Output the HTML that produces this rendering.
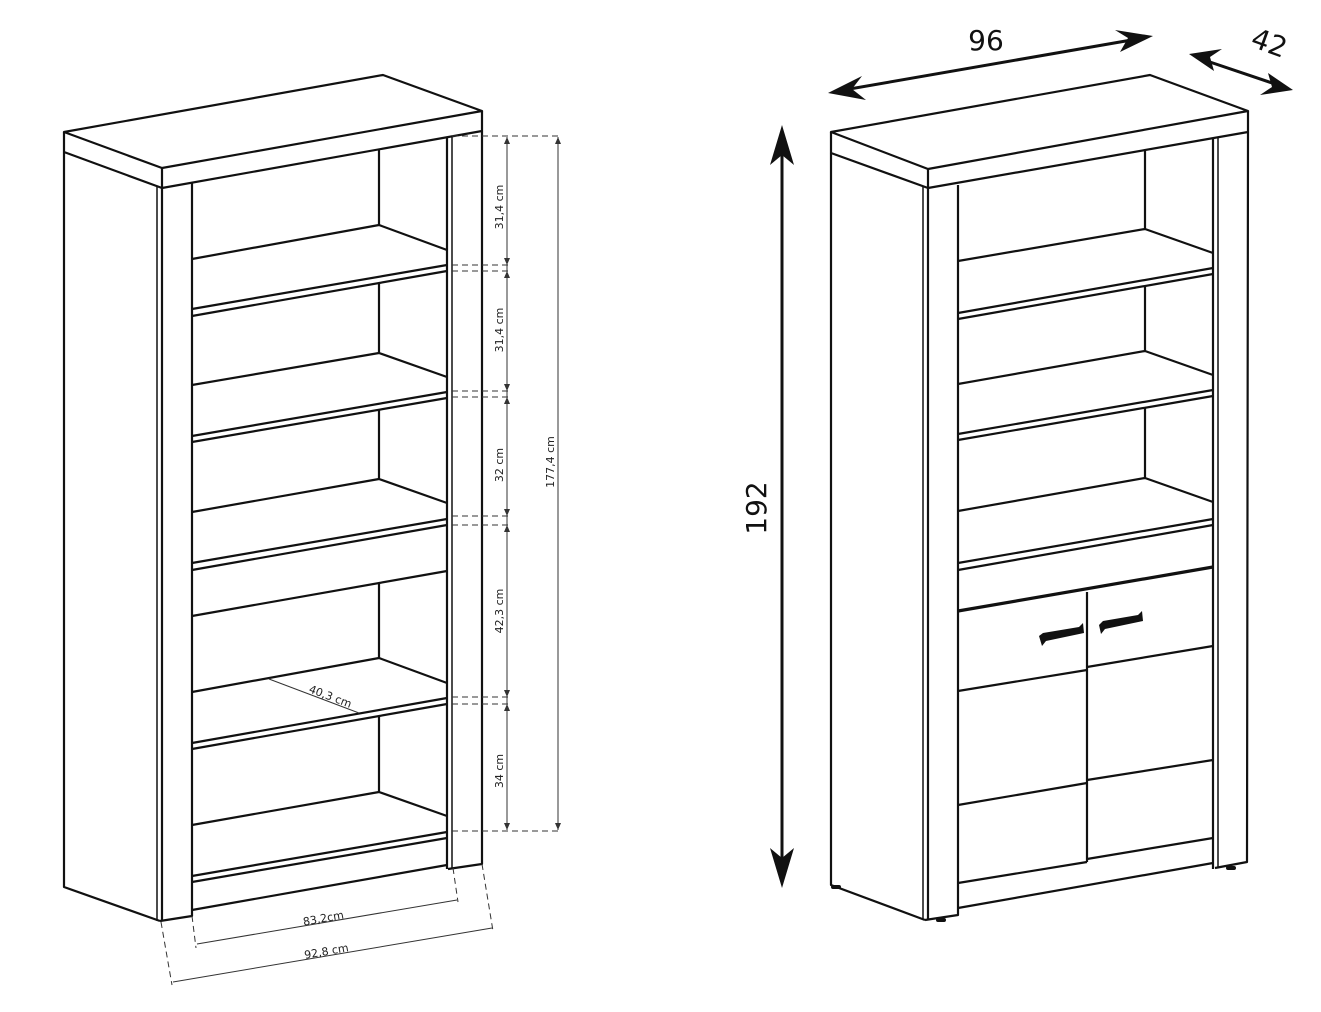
<!DOCTYPE html>
<html><head><meta charset="utf-8"><style>html,body{margin:0;padding:0;background:#fff}svg{display:block}</style></head>
<body>
<svg width="1321" height="1012" viewBox="0 0 1321 1012" xmlns="http://www.w3.org/2000/svg" font-family="'DejaVu Sans','Liberation Sans',sans-serif">
<rect width="1321" height="1012" fill="#fff"/>
<g fill="none" stroke="#111" stroke-width="2.2" stroke-linejoin="round">
<!-- LEFT CABINET -->
<polygon points="64,132 383,75 482,111 162,168"/>
<polyline points="162,168 162,188 482,131 482,111"/>
<polyline points="64,132 64,152 162,188"/>
<polyline points="64,152 64,887 160,921"/>
<line x1="157" y1="186" x2="157" y2="921" stroke-width="1.5"/>
<line x1="162" y1="188" x2="162" y2="921"/>
<polyline points="160,921 192,916 192,183"/>
<line x1="447" y1="138" x2="447" y2="869"/>
<line x1="452" y1="137" x2="452" y2="869" stroke-width="1.5"/>
<polyline points="482,131 482,864 448,869"/>
<line x1="379" y1="149" x2="379" y2="225"/>
<polyline points="192,259 379,225 447,250"/>
<line x1="192" y1="309" x2="447" y2="265"/><line x1="192" y1="316" x2="447" y2="271"/>
<line x1="379" y1="283" x2="379" y2="353"/>
<polyline points="192,385 379,353 447,377"/>
<line x1="192" y1="436" x2="447" y2="392"/><line x1="192" y1="442" x2="447" y2="398"/>
<line x1="379" y1="409" x2="379" y2="479"/>
<polyline points="192,512 379,479 447,503"/>
<line x1="192" y1="563" x2="447" y2="519"/><line x1="192" y1="570" x2="447" y2="525"/>
<line x1="192" y1="616" x2="447" y2="571"/>
<line x1="379" y1="584" x2="379" y2="658"/>
<polyline points="192,692 379,658 447,683"/>
<line x1="192" y1="743" x2="447" y2="698"/><line x1="192" y1="749" x2="447" y2="704"/>
<line x1="379" y1="716" x2="379" y2="792"/>
<polyline points="192,825 379,792 447,816"/>
<line x1="192" y1="876" x2="447" y2="832"/><line x1="192" y1="882" x2="447" y2="838"/>
<line x1="192" y1="910" x2="447" y2="865"/>

<!-- RIGHT CABINET -->
<polygon points="831,132 1150,75 1248,111 928,169"/>
<polyline points="928,169 928,188 1248,132 1248,111"/>
<polyline points="831,132 831,153 928,188"/>
<polyline points="831,153 831,885 925,920"/>
<line x1="923" y1="186" x2="923" y2="920" stroke-width="1.5"/>
<line x1="928" y1="188" x2="928" y2="920"/>
<polyline points="925,920 958,915 958,185"/>
<line x1="1213" y1="138" x2="1213" y2="869"/>
<line x1="1218" y1="137" x2="1218" y2="868" stroke-width="1.5"/>
<polyline points="1248,132 1247,862 1215,868"/>
<line x1="1145" y1="151" x2="1145" y2="229"/>
<polyline points="958,261 1145,229 1213,253"/>
<line x1="958" y1="313" x2="1213" y2="268"/><line x1="958" y1="319" x2="1213" y2="274"/>
<line x1="1145" y1="287" x2="1145" y2="351"/>
<polyline points="958,384 1145,351 1213,375"/>
<line x1="958" y1="434" x2="1213" y2="390"/><line x1="958" y1="440" x2="1213" y2="396"/>
<line x1="1145" y1="408" x2="1145" y2="478"/>
<polyline points="958,511 1145,478 1213,502"/>
<line x1="958" y1="563" x2="1213" y2="519"/><line x1="958" y1="570" x2="1213" y2="525"/>
<line x1="958" y1="611" x2="1213" y2="567" stroke-width="3.2"/>
<line x1="1087" y1="592" x2="1087" y2="862"/>
<line x1="958" y1="691" x2="1087" y2="670"/><line x1="1087" y1="667" x2="1213" y2="646"/>
<line x1="958" y1="805" x2="1087" y2="783"/><line x1="1087" y1="780" x2="1213" y2="760"/>
<line x1="958" y1="883" x2="1087" y2="862"/><line x1="1087" y1="859" x2="1213" y2="838"/>
<line x1="958" y1="908" x2="1213" y2="863"/>
</g>
<!-- handles -->
<g fill="#111">
<polygon points="1039,636 1043,633 1079,627 1083,623 1084,633 1046,641 1042,646"/>
<polygon points="1099,625 1103,621 1138,615 1142,611 1143,621 1105,629 1101,634"/>
<rect x="831" y="885" width="10" height="4" rx="2"/>
<rect x="936" y="918" width="10" height="4" rx="2"/>
<rect x="1226" y="866" width="10" height="4" rx="2"/>
</g>

<!-- dimensions left -->
<g stroke="#333" stroke-width="1" fill="none">
<g stroke-dasharray="6,4">
<line x1="452" y1="136" x2="560" y2="136"/>
<line x1="452" y1="265" x2="512" y2="265"/><line x1="452" y1="271" x2="512" y2="271"/>
<line x1="452" y1="391" x2="512" y2="391"/><line x1="452" y1="397" x2="512" y2="397"/>
<line x1="452" y1="516" x2="512" y2="516"/><line x1="452" y1="525" x2="512" y2="525"/>
<line x1="452" y1="697" x2="512" y2="697"/><line x1="452" y1="704" x2="512" y2="704"/>
<line x1="452" y1="831" x2="560" y2="831"/>
<line x1="161" y1="922" x2="172" y2="985"/>
<line x1="192" y1="916" x2="196" y2="948"/>
<line x1="453" y1="868" x2="458" y2="902"/>
<line x1="482" y1="864" x2="493" y2="931"/>
</g>
<line x1="507" y1="137" x2="507" y2="830"/>
<line x1="558" y1="137" x2="558" y2="830"/>
<line x1="197" y1="944" x2="457" y2="900"/>
<line x1="173" y1="982" x2="492" y2="928"/>
<line x1="269" y1="679" x2="359" y2="713"/>
</g>
<g fill="#333">
<path d="M507,137 l-3,7 h6z M507,265 l-3,-7 h6z M507,271 l-3,7 h6z M507,391 l-3,-7 h6z M507,397 l-3,7 h6z M507,516 l-3,-7 h6z M507,525 l-3,7 h6z M507,697 l-3,-7 h6z M507,704 l-3,7 h6z M507,830 l-3,-7 h6z M558,137 l-3,7 h6z M558,830 l-3,-7 h6z"/>
</g>
<g font-size="11" fill="#222" text-anchor="middle">
<text transform="translate(503,207) rotate(-90)">31,4 cm</text>
<text transform="translate(503,330) rotate(-90)">31,4 cm</text>
<text transform="translate(503,465) rotate(-90)">32 cm</text>
<text transform="translate(503,611) rotate(-90)">42,3 cm</text>
<text transform="translate(503,771) rotate(-90)">34 cm</text>
<text transform="translate(554,462) rotate(-90)">177,4 cm</text>
<text transform="translate(324,922) rotate(-10)">83,2cm</text>
<text transform="translate(327,955) rotate(-10)">92,8 cm</text>
<text transform="translate(329,700) rotate(21)">40,3 cm</text>
</g>

<!-- big arrows right -->
<g stroke="#111" stroke-width="3" fill="none">
<line x1="782" y1="135" x2="782" y2="878"/>
<line x1="838" y1="91" x2="1143" y2="38"/>
<line x1="1198" y1="58" x2="1284" y2="87"/>
</g>
<g fill="#111">
<path d="M782,125 L794,165 L782,155 L770,165Z"/>
<path d="M782,888 L794,848 L782,858 L770,848Z"/>
<path d="M828,93 L862,76 L852,89 L866,100Z"/>
<path d="M1153,36 L1115,30 L1128,38 L1120,52Z"/>
<path d="M1189,54 L1222,49 L1210,57 L1214,71Z"/>
<path d="M1293,90 L1260,95 L1272,87 L1268,73Z"/>
</g>
<g font-size="28" fill="#111" text-anchor="middle">
<text transform="translate(766,508) rotate(-90)">192</text>
<text x="986" y="50">96</text>
<text transform="translate(1266,52) rotate(20)">42</text>
</g>
</svg>
</body></html>
